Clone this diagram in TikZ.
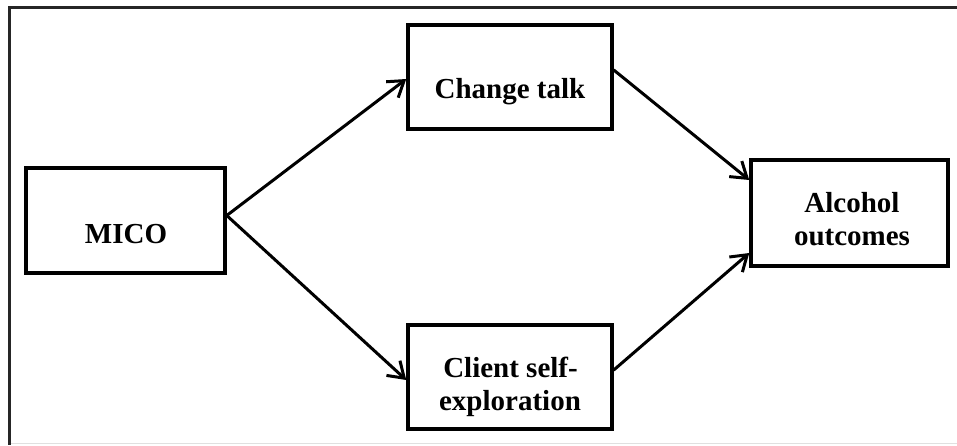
\documentclass[tikz,border=0pt]{standalone}
\usepackage{fontspec}
\setmainfont{Liberation Serif}
\usetikzlibrary{arrows.meta}
\tikzset{
  box/.style={draw=black, line width=3.5pt, rectangle, inner sep=0pt, fill=white},
  lbl/.style={font=\fontsize{29}{33}\selectfont\bfseries, anchor=base, inner sep=0pt, align=center},
  conn/.style={line width=3pt, line cap=round, line join=round, -{Straight Barb[length=15pt,width=20pt,line width=3pt]}},
}
\begin{document}
\begin{tikzpicture}[x=1pt,y=-1pt]
\useasboundingbox (0,0) rectangle (957,445);
\fill[white] (0,0) rectangle (957,445);
% outer frame
\draw[line width=3pt, color=black!85] (957,7.5) -- (9.5,7.5) -- (9.5,445);
\draw[line width=1pt, color=black!12] (11,443.5) -- (957,443.5);
% boxes
\node[box, minimum width=199pt, minimum height=105pt] (mico) at (125.5,220.5) {};
\node[box, minimum width=204pt, minimum height=104pt] (change) at (510,77) {};
\node[box, minimum width=204pt, minimum height=104pt] (client) at (510,377) {};
\node[box, minimum width=197pt, minimum height=106pt] (alcohol) at (849.5,213) {};
% texts
\node[lbl] (micot) at (126,243) {MICO};
\node[lbl] (changet) at (510,98) {Change talk};
\node[lbl] (clientt1) at (510.5,377) {Client self-};
\node[lbl] (clientt2) at (510,410) {exploration};
\node[lbl] (alcoholt1) at (852,212) {Alcohol};
\node[lbl] (alcoholt2) at (852,245) {outcomes};
% connectors
\draw[conn] ([yshift=5pt]mico.east) -- ([yshift=-2pt]change.west);
\draw[conn] ([yshift=5pt]mico.east) -- ([yshift=-3pt]client.west);
\draw[conn] ([yshift=7pt]change.east) -- ([yshift=33pt]alcohol.west);
\draw[conn] ([yshift=7pt]client.east) -- ([yshift=-40pt]alcohol.west);
\end{tikzpicture}
\end{document}
